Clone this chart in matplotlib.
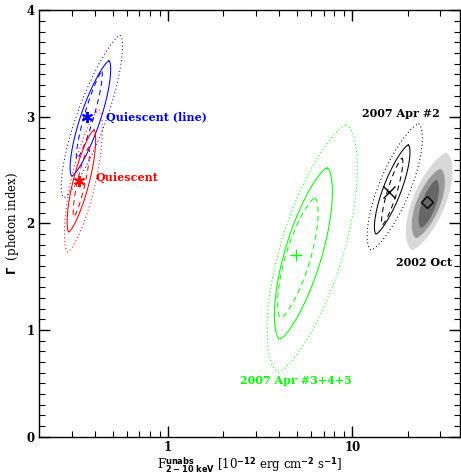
import numpy as np
import matplotlib
matplotlib.use("Agg")
import matplotlib.pyplot as plt
from matplotlib.ticker import FixedLocator, MultipleLocator, NullFormatter

plt.rcParams['font.family'] = ['DejaVu Serif']
plt.rcParams['font.weight'] = 'bold'

# best-fit points: flux [1e-12 erg/cm2/s], photon index
fit_names = ["Quiescent (line)", "Quiescent", "2007 Apr #3+4+5", "2007 Apr #2", "2002 Oct"]
fit_flux = [0.363, 0.328, 4.96, 15.9, 25.6]
fit_gamma = [3.00, 2.40, 1.70, 2.30, 2.20]

# contour ellipses: centre (log flux, gamma), tip offset (dlog, dgamma), half width (dex)
# order per data set: 68% (dashed), 90% (solid), 99% (dotted)
cont_logf = {
    "blue": [-0.427, -0.421, -0.413],
    "red": [-0.470, -0.470, -0.459],
    "lime": [0.705, 0.735, 0.783],
    "black": [1.217, 1.217, 1.231],
    "gray": [1.416, 1.413, 1.418],
}
cont_gamma = {
    "blue": [3.014, 2.986, 3.005],
    "red": [2.390, 2.399, 2.399],
    "lime": [1.676, 1.718, 1.765],
    "black": [2.300, 2.319, 2.343],
    "gray": [2.183, 2.188, 2.207],
}
cont_dlog = {
    "blue": [0.068, 0.1005, 0.152],
    "red": [0.041, 0.068, 0.084],
    "lime": [0.092, 0.128, 0.185],
    "black": [0.054, 0.087, 0.128],
    "gray": [0.041, 0.065, 0.092],
}
cont_dgamma = {
    "blue": [0.413, 0.541, 0.761],
    "red": [0.329, 0.479, 0.667],
    "lime": [0.563, 0.803, 1.160],
    "black": [0.315, 0.418, 0.592],
    "gray": [0.225, 0.324, 0.455],
}
cont_width = {
    "blue": [0.027, 0.057, 0.085],
    "red": [0.022, 0.045, 0.068],
    "lime": [0.070, 0.105, 0.178],
    "black": [0.027, 0.052, 0.092],
    "gray": [0.041, 0.068, 0.095],
}


def contour(lc, gc, dl, dg, w, n=300):
    # slanted, slightly pointed ellipse in (log F, Gamma)
    t = np.linspace(0, 2 * np.pi, n)
    s = np.sin(t)
    lx = lc + np.cos(t) * dl + np.sign(s) * np.abs(s) ** 1.3 * w
    gy = gc + np.cos(t) * dg
    return 10 ** lx, gy


fig = plt.figure(figsize=(4.61, 4.75), dpi=100)
ax = fig.add_axes([0.085, 0.081, 0.913, 0.897])

styles = [(0, (5, 4)), '-', (0, (1, 2.5))]
for col in ["blue", "red", "lime", "black"]:
    for i in range(3):
        x, y = contour(cont_logf[col][i], cont_gamma[col][i], cont_dlog[col][i],
                       cont_dgamma[col][i], cont_width[col][i])
        ax.plot(x, y, color=col, linestyle=styles[i], linewidth=0.75)

grays = ['#666666', '#9a9a9a', '#d8d8d8']
for i in [2, 1, 0]:
    x, y = contour(cont_logf["gray"][i], cont_gamma["gray"][i], cont_dlog["gray"][i],
                   cont_dgamma["gray"][i], cont_width["gray"][i])
    ax.fill(x, y, color=grays[i], linewidth=0)

ax.plot(fit_flux[0], fit_gamma[0], marker=(6, 2, 0), color='blue', ms=8, mew=1.4)
ax.plot(fit_flux[1], fit_gamma[1], marker=(6, 2, 0), color='red', ms=8, mew=1.4)
ax.plot(fit_flux[2], fit_gamma[2], marker='+', color='lime', ms=8, mew=1)
ax.plot(fit_flux[3], fit_gamma[3], marker='x', color='black', ms=8, mew=1)
ax.plot(fit_flux[4], fit_gamma[4], marker='D', color='black', mfc='none', ms=6, mew=1)

ax.text(0.46, 3.0, fit_names[0], color='blue', fontsize=8, va='center')
ax.text(0.405, 2.43, fit_names[1], color='red', fontsize=8, va='center')
ax.text(2.45, 0.53, fit_names[2], color='lime', fontsize=8, va='center')
ax.text(18.3, 3.03, fit_names[3], color='black', fontsize=8, va='center', ha='center')
ax.text(17.2, 1.63, fit_names[4], color='black', fontsize=8, va='center')

ax.set_xscale('log')
ax.set_xlim(0.2, 38.5)
ax.set_ylim(0, 4)
ax.set_xticks([1, 10])
ax.set_xticklabels(['1', '10'])
ax.xaxis.set_minor_locator(FixedLocator([0.3, 0.4, 0.5, 0.6, 0.7, 0.8, 0.9,
                                         2, 3, 4, 5, 6, 7, 8, 9, 20, 30]))
ax.xaxis.set_minor_formatter(NullFormatter())
ax.yaxis.set_major_locator(MultipleLocator(1))
ax.yaxis.set_minor_locator(MultipleLocator(0.1))
ax.tick_params(which='both', direction='in', top=True, right=True, labelsize=8.5)
ax.tick_params(which='major', length=8, width=1)
ax.tick_params(which='minor', length=4, width=0.8)
for s in ax.spines.values():
    s.set_linewidth(1)

ax.set_xlabel(r'F$^{\rm unabs}_{\rm 2-10\ keV}$ [10$^{-12}$ erg cm$^{-2}$ s$^{-1}$]',
              fontsize=8.5, labelpad=1)
ax.set_ylabel(r'$\Gamma$  (photon index)', fontsize=8.5, labelpad=4)

fig.savefig('out.png', dpi=100)
